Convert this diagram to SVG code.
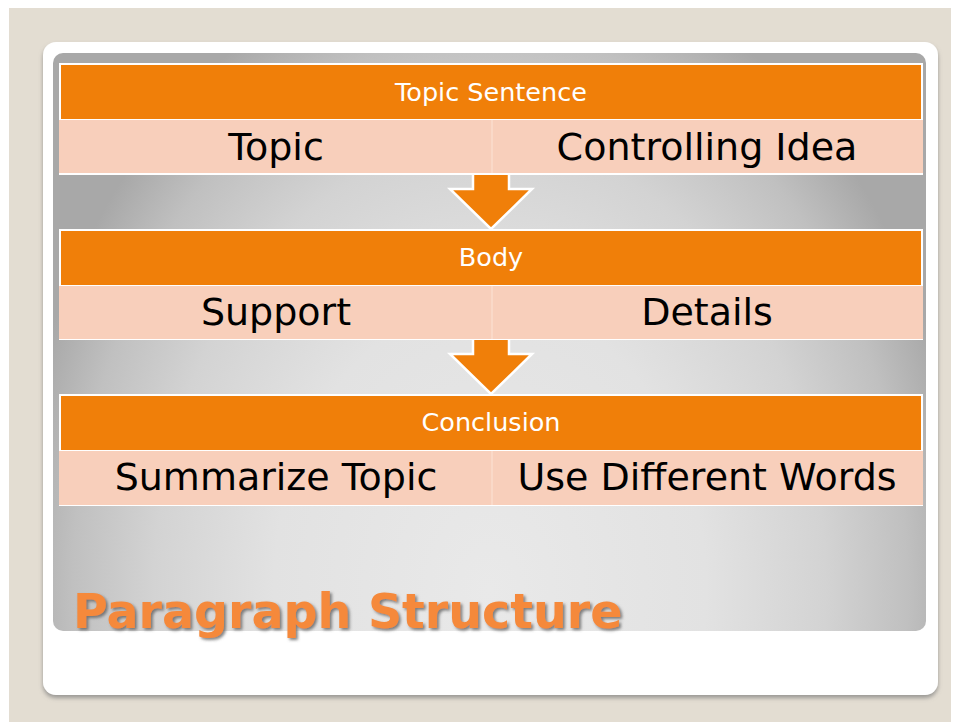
<svg xmlns="http://www.w3.org/2000/svg" width="958" height="722" viewBox="0 0 958 722">
  <defs>
    <radialGradient id="panelGrad" gradientUnits="userSpaceOnUse" cx="0" cy="0" r="1" gradientTransform="translate(490 590) scale(480 640)">
      <stop offset="0" stop-color="#e9e9e9"/>
      <stop offset="0.45" stop-color="#e2e2e2"/>
      <stop offset="0.7" stop-color="#d3d3d3"/>
      <stop offset="0.87" stop-color="#c0c0c0"/>
      <stop offset="1" stop-color="#a8a8a8"/>
    </radialGradient>
    <filter id="cardShadow" x="-5%" y="-5%" width="110%" height="112%">
      <feDropShadow dx="0" dy="3" stdDeviation="2" flood-color="#7a7a7a" flood-opacity="0.7"/>
    </filter>
    <filter id="textShadow" x="-5%" y="-20%" width="110%" height="150%">
      <feDropShadow dx="2" dy="2" stdDeviation="1.5" flood-color="#5a5a5a" flood-opacity="0.75"/>
    </filter>
  </defs>
  <style>
    .hdr { fill: #F07F09; }
    .row { fill: #F8CFBB; }
    .frame { fill: #FFFFFF; }
    .div { stroke: #FBDCCD; stroke-width: 1.5; }
    .hdrText { font-family: "DejaVu Sans", Verdana, sans-serif; font-size: 25.5px; fill: #FFFFFF; text-anchor: middle; }
    .rowText { font-family: "DejaVu Sans", Verdana, sans-serif; font-size: 38px; fill: #000000; text-anchor: middle; }
    .arrow { fill: #F07F09; stroke: #FFFFFF; stroke-width: 2.5; stroke-linejoin: miter; }
    .title { font-family: "DejaVu Sans", Verdana, sans-serif; font-weight: bold; font-size: 47.5px; fill: #F5893A; }
  </style>

  <!-- page background -->
  <rect x="0" y="0" width="958" height="722" fill="#FFFFFF"/>
  <rect x="9" y="8" width="942" height="714" fill="#E3DDD2"/>

  <!-- card -->
  <g id="card">
    <rect x="43" y="42" width="895" height="653" rx="13" ry="13" fill="#FFFFFF" filter="url(#cardShadow)"/>
    <rect x="53" y="53" width="873" height="578" rx="10" ry="10" fill="url(#panelGrad)"/>
  </g>

  <!-- connectors -->
  <g id="connectors">
    <polygon class="arrow" points="473,168 509,168 509,189 532,189 491,229 450,189 473,189"/>
    <polygon class="arrow" points="473,333 509,333 509,354 532,354 491,394 450,354 473,354"/>
  </g>

  <!-- Topic Sentence block -->
  <g id="node-topic-sentence">
    <rect class="frame" x="59" y="63" width="864" height="112"/>
    <rect class="hdr" x="61" y="65" width="860" height="54"/>
    <rect class="row" x="59" y="120" width="864" height="53"/>
    <line class="div" x1="492" y1="120" x2="492" y2="173"/>
    <text class="hdrText" x="491" y="101">Topic Sentence</text>
    <text class="rowText" x="276" y="160">Topic</text>
    <text class="rowText" x="707" y="160">Controlling Idea</text>
  </g>

  <!-- Body block -->
  <g id="node-body">
    <rect class="frame" x="59" y="229" width="864" height="111"/>
    <rect class="hdr" x="61" y="231" width="860" height="54"/>
    <rect class="row" x="59" y="286" width="864" height="53"/>
    <line class="div" x1="492" y1="286" x2="492" y2="339"/>
    <text class="hdrText" x="491" y="266">Body</text>
    <text class="rowText" x="276" y="325">Support</text>
    <text class="rowText" x="707" y="325">Details</text>
  </g>

  <!-- Conclusion block -->
  <g id="node-conclusion">
    <rect class="frame" x="59" y="394" width="864" height="112"/>
    <rect class="hdr" x="61" y="396" width="860" height="54"/>
    <rect class="row" x="59" y="451" width="864" height="54"/>
    <line class="div" x1="492" y1="451" x2="492" y2="505"/>
    <text class="hdrText" x="491" y="431">Conclusion</text>
    <text class="rowText" x="276" y="490">Summarize Topic</text>
    <text class="rowText" x="707" y="490">Use Different Words</text>
  </g>

  <!-- title -->
  <g id="title">
    <text class="title" x="73" y="628" filter="url(#textShadow)">Paragraph Structure</text>
  </g>
</svg>
